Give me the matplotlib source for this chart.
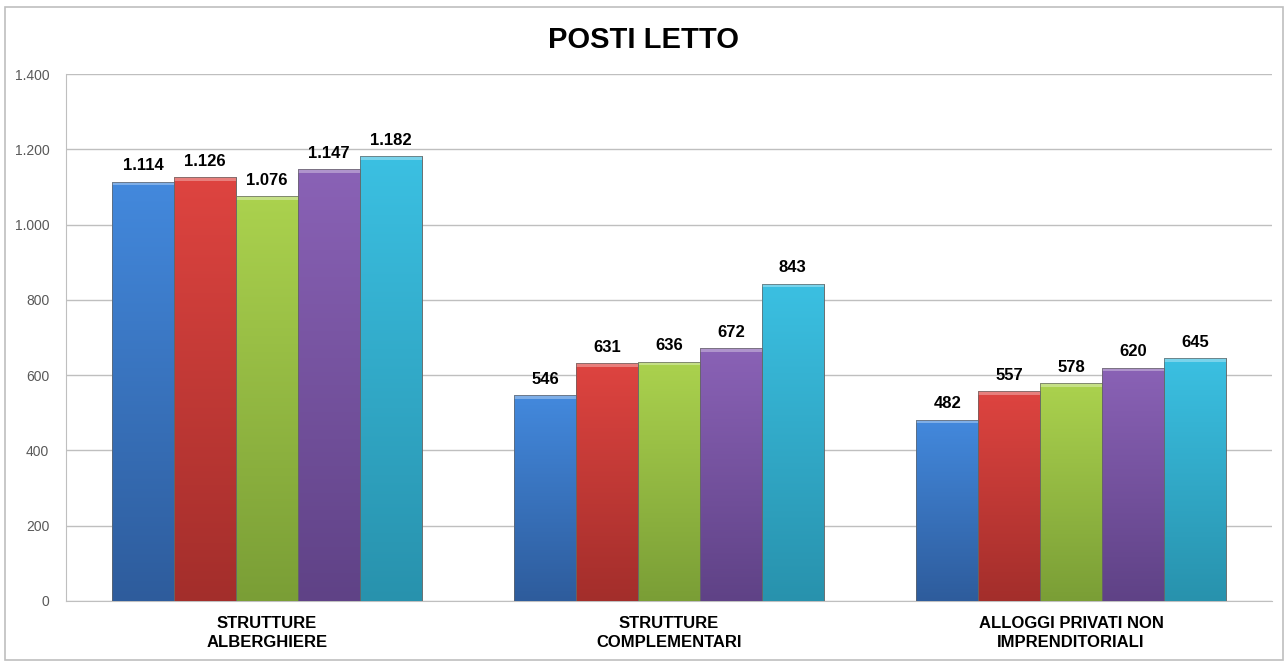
import numpy as np
import matplotlib.pyplot as plt
from matplotlib.colors import LinearSegmentedColormap, to_rgb
from matplotlib.patches import Rectangle

categorie = ["STRUTTURE\nALBERGHIERE", "STRUTTURE\nCOMPLEMENTARI", "ALLOGGI PRIVATI NON\nIMPRENDITORIALI"]
serie1 = [1114, 546, 482]
serie2 = [1126, 631, 557]
serie3 = [1076, 636, 578]
serie4 = [1147, 672, 620]
serie5 = [1182, 843, 645]
valori = [serie1, serie2, serie3, serie4, serie5]

# colori (alto, basso) per il gradiente
colori = [("#4389DD", "#2E5C9C"), ("#DE4440", "#A32E2B"), ("#ABD24E", "#7A9E36"),
          ("#8A62B6", "#5F4286"), ("#3BC0E2", "#2892AD")]

plt.rcParams['font.family'] = ['Liberation Sans Narrow', 'Liberation Sans', 'DejaVu Sans']

fig = plt.figure(figsize=(12.88, 6.64), dpi=100)
ax = fig.add_axes([66/1288, 1-601/664, (1272-66)/1288, 527/664])

# bordo della figura
fig.patches.append(Rectangle((5/1288, 1-660/664), 1278/1288, 653/664, transform=fig.transFigure,
                             fill=False, edgecolor="#BFBFBF", linewidth=1.2))

def fmt(v):
    return f"{v:,}".replace(",", ".")

x = np.arange(len(categorie))
w = 0.154
for i, serie in enumerate(valori):
    pos = x + (i - 2) * w
    top, bot = colori[i]
    bars = ax.bar(pos, serie, width=w, color=top, edgecolor="#555555", linewidth=0.4, zorder=3)
    cmap = LinearSegmentedColormap.from_list("g%d" % i, [bot, top])
    grad = np.linspace(0, 1, 256).reshape(-1, 1)
    for b, v in zip(bars, serie):
        x0 = b.get_x()
        im = ax.imshow(grad, extent=[x0, x0 + w, 0, v], origin="lower", aspect="auto",
                       cmap=cmap, zorder=3.1)
        im.set_clip_path(b)
        # smusso chiaro in alto
        light = tuple(min(1, c * 0.6 + 0.4) for c in to_rgb(top))
        ax.add_patch(Rectangle((x0, v - 10), w, 10, facecolor=light, edgecolor="none",
                               alpha=0.8, zorder=3.2))
        ax.add_patch(Rectangle((x0, 0), w, v, facecolor="none", edgecolor="#666666",
                               linewidth=0.5, zorder=3.3))
        ax.text(b.get_x() + w / 2, v + 22, fmt(v), ha="center", va="bottom",
                fontsize=12, fontweight="bold", color="black", zorder=4)

ax.set_xlim(-0.5, 2.5)
ax.set_ylim(0, 1400)
ax.set_yticks(range(0, 1401, 200))
ax.set_yticklabels([fmt(t) for t in range(0, 1401, 200)], fontsize=10, color="#595959",
                   family=['Liberation Sans', 'DejaVu Sans'])
ax.set_xticks(x)
ax.set_xticklabels(categorie, fontsize=12, fontweight="bold", linespacing=1.3)
ax.tick_params(axis="x", length=0, pad=11)
ax.tick_params(axis="y", length=0, pad=12)
ax.grid(axis="y", color="#BFBFBF", linewidth=1, zorder=0)
for s in ["top", "right"]:
    ax.spines[s].set_visible(False)
ax.spines["left"].set_color("#BFBFBF")
ax.spines["bottom"].set_color("#BFBFBF")

fig.text(0.5, 1-40/664, "POSTI LETTO", ha="center", va="center", fontsize=21, fontweight="bold")

fig.savefig("out.png", dpi=100)
